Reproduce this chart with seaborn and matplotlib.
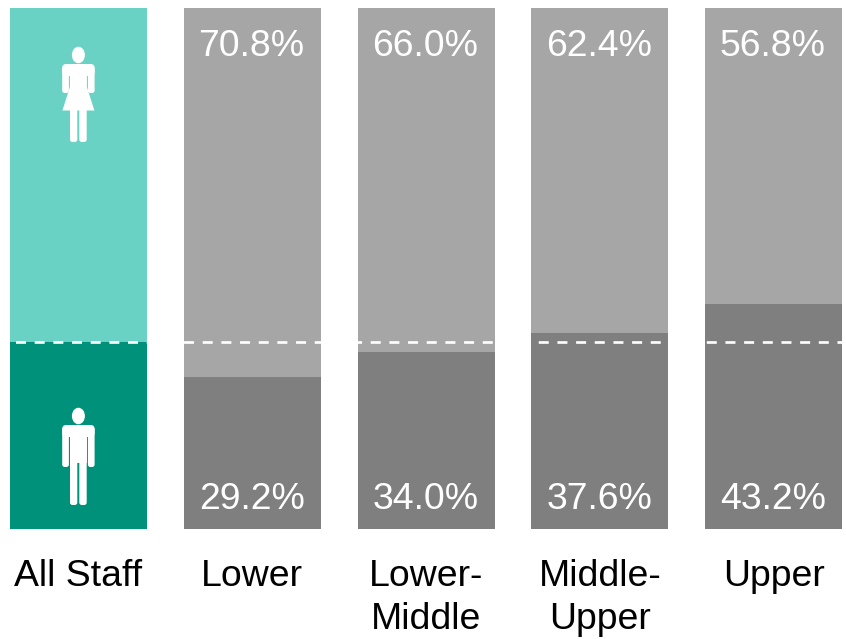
import matplotlib
matplotlib.use("Agg")
import matplotlib.pyplot as plt
from matplotlib.patches import Ellipse, FancyBboxPatch, Polygon
import seaborn as sns

sns.set_theme(style="white")
plt.rcParams["font.family"] = ["Liberation Sans", "DejaVu Sans"]

categories = ["All Staff", "Lower", "Lower-\nMiddle", "Middle-\nUpper", "Upper"]
female_share = [64.1, 70.8, 66.0, 62.4, 56.8]
male_share = [35.9, 29.2, 34.0, 37.6, 43.2]
female_colors = ["#6AD1C5", "#A6A6A6", "#A6A6A6", "#A6A6A6", "#A6A6A6"]
male_colors = ["#00917A", "#7F7F7F", "#7F7F7F", "#7F7F7F", "#7F7F7F"]

W, H = 846, 639
FONT = 26.9
BAR_W = 137 / 173.75
PX = 0.72  # points per pixel at 100 dpi

fig = plt.figure(figsize=(W / 100, H / 100), dpi=100, facecolor="white")
ax = fig.add_axes([10 / W, 1 - 529 / H, 832 / W, 521 / H])

# Stacked columns: the full height in the female colour, the male share in front
totals = [f + m for f, m in zip(female_share, male_share)]
sns.barplot(x=categories, y=totals, hue=categories, palette=female_colors,
            legend=False, width=BAR_W, linewidth=0, saturation=1, ax=ax)
sns.barplot(x=categories, y=male_share, hue=categories, palette=male_colors,
            legend=False, width=BAR_W, linewidth=0, saturation=1, ax=ax)

half = BAR_W / 2
ax.set_xlim(-half, len(categories) - 1 + half)
ax.set_ylim(0, 100)
ax.set_yticks([])
ax.set_ylabel("")
sns.despine(ax=ax, left=True, bottom=True)
ax.set_xticks(range(len(categories)))
ax.set_xticklabels(categories, fontsize=FONT, color="black", linespacing=1.3)
ax.tick_params(axis="x", length=0, pad=21.5)

# Percentage labels at the top and bottom of each graded bar
for i in range(1, len(categories)):
    ax.annotate(f"{female_share[i]:.1f}%", (i, 100), xytext=(-0.6 * PX, -48 * PX),
                textcoords="offset points", ha="center", va="baseline",
                color="white", fontsize=FONT)
    ax.annotate(f"{male_share[i]:.1f}%", (i, 0), xytext=(-0.6 * PX, 20 * PX),
                textcoords="offset points", ha="center", va="baseline",
                color="white", fontsize=FONT)

# Dashed reference at the all-staff split; white, so it only shows over the bars
LW = 1.9
on, off = 10 * PX / LW, 8.67 * PX / LW
ax.axhline(male_share[0], color="white", lw=LW, zorder=5,
           linestyle=(on + 3.17 * PX / LW, (on, off)), dash_capstyle="butt")

# Overlay in pixel units for the pictograms
overlay = fig.add_axes([0, 0, 1, 1], facecolor="none")
overlay.set_xlim(0, W)
overlay.set_ylim(H, 0)
overlay.axis("off")


def rounded(x0, y0, x1, y1, r=2.5):
    overlay.add_patch(FancyBboxPatch(
        (x0 + r, y0 + r), x1 - x0 - 2 * r, y1 - y0 - 2 * r,
        boxstyle=f"round,pad={r},rounding_size={r}",
        fc="white", ec="none"))


def person(cx, top, skirt):
    # top is the upper edge of the head
    overlay.add_patch(Ellipse((cx, top + 8), 13, 16.5, fc="white", ec="none"))
    rounded(cx - 16.2, top + 17, cx + 16.2, top + 29, r=4)
    arm_end = top + (46 if skirt else 59)
    rounded(cx - 16.2, top + 19, cx - 9.5, arm_end)
    rounded(cx + 9.5, top + 19, cx + 16.2, arm_end)
    if skirt:
        overlay.add_patch(Polygon(
            [(cx - 8.5, top + 20), (cx + 8.5, top + 20), (cx + 8.5, top + 40),
             (cx + 16, top + 63.5), (cx - 16, top + 63.5), (cx - 8.5, top + 40)],
            fc="white", ec="none"))
    else:
        overlay.add_patch(Polygon(
            [(cx - 8.5, top + 20), (cx + 8.5, top + 20), (cx + 8.5, top + 55),
             (cx - 8.5, top + 55)], fc="white", ec="none"))
    leg_top = top + (62 if skirt else 55)
    leg_end = top + (95 if skirt else 97)
    rounded(cx - 8.4, leg_top - 5, cx - 1.1, leg_end)
    rounded(cx + 0.9, leg_top - 5, cx + 8.3, leg_end)


person(78.4, 47, skirt=True)
person(78.4, 408, skirt=False)

fig.savefig("out.png", dpi=100)
